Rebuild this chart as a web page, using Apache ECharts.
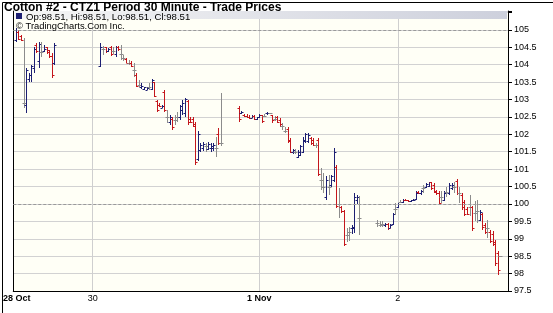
<!DOCTYPE html>
<html><head><meta charset="utf-8">
<script src="https://cdn.jsdelivr.net/npm/echarts@6/dist/echarts.min.js"></script>
<style>html,body{margin:0;padding:0;background:#fff}#c{width:553px;height:313px}</style>
</head><body><div id="c"></div>
<script>
// ---- chart text ----
const chartTitle = 'Cotton #2 - CTZ1 Period 30 Minute - Trade Prices';
const creditText = 'TradingCharts.Com Inc.';

// ---- x axis: 30-minute slots, day labels ----
const slotCount = 194;
const tickLabels = ['28 Oct', '30', '1 Nov', '2'];
const tickSlots = [0, 31, 96, 150];
const boldLabels = ['28 Oct', '1 Nov'];

// ---- y axis ----
const yMin = 97.5, yMax = 105.54, yStep = 0.5, yLabelTop = 105;
const dashedLevels = [100, 105];

// ---- OHLC bars per session: [open, high, low, close] ----
const sessionStart = [1, 34, 88, 142];
const session1 = [
  [104.7,105.05,104.65,104.95],[104.95,105.0,104.7,104.75],[104.82,104.85,104.68,104.72],[102.9,104.76,102.76,102.9],
  [102.85,103.9,102.61,103.85],[103.6,103.76,103.5,103.7],[103.7,103.99,103.5,103.95],[103.9,104.51,103.76,104.45],
  [104.55,104.62,104.33,104.4],[104.1,104.65,103.9,104.6],[104.35,104.65,104.22,104.35],[104.4,104.56,104.36,104.45],
  [104.5,104.52,104.3,104.35],[104.42,104.42,104.19,104.25],[104.25,104.33,103.62,103.7],[104.05,104.62,103.99,104.55]
];
const session2 = [
  [103.95,104.62,103.92,104.5],[104.45,104.54,104.28,104.45],[104.5,104.52,104.33,104.4],[104.4,104.48,104.35,104.45],
  [104.5,104.54,104.25,104.3],[104.4,104.52,104.3,104.4],[104.3,104.54,104.23,104.5],[104.5,104.54,104.38,104.45],
  [104.3,104.56,104.13,104.3],[104.2,104.28,104.09,104.2],[104.15,104.18,104.04,104.05],[104.05,104.13,103.99,104.05],
  [104.05,104.11,103.94,103.95],[103.85,104.04,103.65,103.85],[103.7,103.75,103.37,103.4],[103.42,103.56,103.37,103.42],
  [103.35,103.47,103.29,103.4],[103.3,103.37,103.27,103.35],[103.28,103.37,103.27,103.32],[103.35,103.47,103.27,103.35],
  [103.3,103.58,103.27,103.55],[103.5,103.51,103.08,103.1],[102.95,102.99,102.65,102.7],[102.85,102.89,102.79,102.82],
  [102.76,102.85,102.75,102.82],[103.2,103.27,102.65,102.7],[102.5,102.7,102.32,102.5],[102.35,102.56,102.27,102.5],
  [102.45,102.51,102.13,102.2],[102.4,102.56,102.27,102.4],[102.5,102.65,102.36,102.5],[102.5,102.84,102.41,102.8],
  [102.7,102.99,102.56,102.9],[102.6,103.04,102.51,103.0],[102.95,102.99,102.27,102.35],[102.45,102.51,102.32,102.35],
  [102.45,102.51,102.22,102.25],[102.3,102.36,101.12,101.2],[101.3,102.08,101.22,102.0],[101.55,101.75,101.5,101.7],
  [101.6,101.78,101.52,101.72],[101.65,101.75,101.5,101.65],[101.58,101.78,101.55,101.72],[101.6,101.76,101.5,101.65],
  [101.62,101.74,101.52,101.68],[101.6,101.93,101.36,101.6],[102.0,102.18,101.7,101.75],[101.75,103.18,101.65,101.75]
];
const session3 = [
  [102.75,102.8,102.36,102.45],[102.6,102.68,102.58,102.65],[102.55,102.58,102.51,102.53],[102.53,102.58,102.48,102.5],
  [102.5,102.56,102.44,102.47],[102.48,102.54,102.47,102.52],[102.52,102.55,102.4,102.45],[102.45,102.51,102.41,102.5],
  [102.5,102.58,102.48,102.56],[102.55,102.56,102.32,102.38],[102.52,102.59,102.51,102.52],[102.6,102.65,102.55,102.62],
  [102.6,102.62,102.57,102.6],[102.55,102.56,102.32,102.4],[102.45,102.52,102.37,102.45],[102.5,102.52,102.32,102.35],
  [102.42,102.46,102.22,102.3],[102.25,102.32,102.13,102.25],[102.1,102.22,102.03,102.1],[102.15,102.22,101.74,101.8],
  [101.85,101.9,101.46,101.5],[101.48,101.57,101.44,101.55],[101.5,101.58,101.44,101.5],[101.35,101.55,101.31,101.5],
  [101.4,101.7,101.38,101.65],[101.5,101.93,101.46,101.85],[101.8,102.04,101.75,102.0],[101.8,102.04,101.75,101.98],
  [101.9,101.93,101.7,101.75],[101.85,101.89,101.65,101.68],[101.7,101.75,101.6,101.7],[101.85,101.89,100.79,100.85],
  [100.7,101.03,100.4,100.7],[100.5,100.9,100.31,100.5],[100.2,100.79,100.12,100.7],[100.5,100.84,100.26,100.5],
  [100.55,100.84,100.5,100.8],[100.7,101.6,100.64,101.5],[101.05,101.12,99.88,99.95],[100.0,100.45,99.59,100.0],
  [99.9,99.95,99.75,99.8],[99.8,99.83,98.78,98.85],[99.1,99.31,98.92,99.1],[99.2,99.35,98.95,99.2],
  [99.3,99.4,99.15,99.35],[99.3,100.31,99.16,100.2],[100.1,100.25,100.0,100.2],[99.6,100.23,99.12,99.6]
];
const session4 = [
  [99.45,99.55,99.35,99.45],[99.4,99.52,99.35,99.4],[99.42,99.5,99.35,99.42],[99.4,99.46,99.34,99.42],
  [99.42,99.45,99.26,99.3],[99.32,99.42,99.3,99.4],[99.42,99.74,99.4,99.7],[99.85,100.02,99.69,99.85],
  [99.92,100.04,99.88,100.0],[100.05,100.1,100.02,100.05],[100.05,100.15,100.02,100.12],[100.12,100.14,100.08,100.1],
  [100.1,100.12,100.06,100.08],[100.08,100.12,100.05,100.1],[100.1,100.14,100.07,100.12],[100.14,100.36,100.12,100.32],
  [100.33,100.38,100.28,100.3],[100.32,100.41,100.26,100.38],[100.45,100.55,100.31,100.45],[100.5,100.6,100.45,100.57],
  [100.52,100.64,100.5,100.62],[100.62,100.64,100.41,100.45],[100.55,100.6,100.31,100.35],[100.38,100.4,100.25,100.3],
  [100.32,100.36,99.98,100.02],[100.2,100.36,100.03,100.2],[100.1,100.36,100.07,100.3],[100.35,100.5,100.21,100.35],
  [100.3,100.6,100.26,100.55],[100.45,100.6,100.4,100.55],[100.5,100.64,100.31,100.5],[100.65,100.71,100.26,100.3],
  [100.3,100.5,100.02,100.3],[100.25,100.31,99.83,99.9],[100.05,100.12,99.64,99.7],[99.85,99.9,99.68,99.72],
  [99.9,100.26,99.64,99.9],[99.9,99.93,99.21,99.3],[99.75,100.07,99.5,99.75],[99.8,100.12,99.45,99.8],
  [99.55,99.83,99.5,99.78],[99.7,99.74,99.26,99.35],[99.4,99.45,99.15,99.2],[99.3,99.55,99.02,99.3],
  [99.2,99.26,98.88,98.95],[99.15,99.21,98.78,98.85],[98.9,98.97,98.21,98.3],[98.6,98.64,97.97,98.1],
  [98.51,98.51,98.51,98.51]
];

// ---- colours ----
const UP = '#1d1f73', DOWN = '#c4161c', FLAT = '#8c8c8c';

const sessions = [session1, session2, session3, session4];
const bars = [];
sessions.forEach((s, k) => s.forEach((b, j) => bars.push([sessionStart[k] + j, b[0], b[1], b[2], b[3]])));
const slots = Array.from({length: slotCount}, (_, i) => String(i));
const last = bars[bars.length - 1];
const fmt = v => v.toFixed(2);
const legendText = 'Op:' + fmt(last[1]) + ', Hi:' + fmt(last[2]) + ', Lo:' + fmt(last[3]) + ', Cl:' + fmt(last[4]);

const chart = echarts.init(document.getElementById('c'), null, {renderer: 'canvas'});
const FONT = 'Liberation Sans, Arial, sans-serif';

chart.setOption({
  animation: false,
  backgroundColor: '#ffffff',
  grid: {left: 13, right: 45, top: 11, bottom: 22, show: true, backgroundColor: '#fffff6', borderWidth: 0},
  xAxis: {
    type: 'category', data: slots, boundaryGap: false,
    axisLine: {lineStyle: {color: '#000', width: 1}},
    axisTick: {show: false},
    splitLine: {show: true, interval: (i) => tickSlots.indexOf(i) > 0, lineStyle: {color: '#cfcfcf', width: 1}},
    axisLabel: {
      interval: (i) => tickSlots.indexOf(i) >= 0,
      margin: 3, color: '#000', fontSize: 9, fontFamily: FONT,
      formatter: (v, i) => {
        const k = tickSlots.indexOf(Number(v));
        if (k < 0) return '';
        const t = tickLabels[k];
        if (k === 0) return '{f|' + t + '}';
        return boldLabels.indexOf(t) >= 0 ? '{b|' + t + '}' : '{n|' + t + '}';
      },
      rich: {
        f: {fontWeight: 'bold', fontSize: 9, fontFamily: FONT, padding: [0, 0, 0, 7], color: '#000'},
        b: {fontWeight: 'bold', fontSize: 9, fontFamily: FONT, color: '#000'},
        n: {fontSize: 9, fontFamily: FONT, color: '#000'}
      }
    }
  },
  yAxis: [{
    type: 'value', position: 'right', min: yMin, max: yMax, interval: yStep,
    axisLine: {show: true, lineStyle: {color: '#000', width: 1}},
    axisTick: {show: true, length: 4, lineStyle: {color: '#000'}},
    splitLine: {show: true, lineStyle: {color: '#d2d2d2', width: 1}},
    axisLabel: {
      margin: 6, color: '#000', fontSize: 9, fontFamily: FONT,
      formatter: v => {
        const r = v / yStep;
        if (v > yLabelTop + 1e-9 || Math.abs(r - Math.round(r)) > 1e-6) return '';
        return String(Math.round(v * 100) / 100);
      }
    }
  }, {
    type: 'value', position: 'left', min: yMin, max: yMax, interval: yStep,
    axisLine: {show: true, lineStyle: {color: '#000', width: 1}},
    axisTick: {show: false}, axisLabel: {show: false}, splitLine: {show: false}
  }],
  series: [{
    type: 'custom',
    data: bars,
    encode: {x: 0, y: [1, 2, 3, 4]},
    clip: true,
    renderItem: (params, api) => {
      const i = api.value(0), o = api.value(1), h = api.value(2), l = api.value(3), c = api.value(4);
      const pH = api.coord([i, h]), pL = api.coord([i, l]), pO = api.coord([i, o]), pC = api.coord([i, c]);
      const x = Math.round(pH[0]) + 0.5;
      const color = c > o ? UP : (c < o ? DOWN : FLAT);
      const style = {stroke: color, lineWidth: 1, fill: null};
      const yH = Math.round(pH[1]), yL = Math.max(Math.round(pL[1]), yH + 1);
      const yO = Math.round(pO[1]) + 0.5, yC = Math.round(pC[1]) + 0.5;
      return {type: 'group', children: [
        {type: 'line', shape: {x1: x, y1: yH, x2: x, y2: yL}, style: style},
        {type: 'line', shape: {x1: x - 2, y1: yO, x2: x, y2: yO}, style: style},
        {type: 'line', shape: {x1: x, y1: yC, x2: x + 2, y2: yC}, style: style}
      ]};
    },
    markLine: {
      silent: true, symbol: 'none', label: {show: false},
      lineStyle: {type: [3, 2], color: '#9a9a9a', width: 1},
      data: dashedLevels.map(v => ({yAxis: v}))
    }
  }],
  graphic: [
    {type: 'rect', left: 14, top: 11, z: 50, shape: {width: 493, height: 8},
      style: {fill: new echarts.graphic.LinearGradient(0, 0, 1, 0, [{offset: 0, color: '#f6f6f6'}, {offset: 1, color: '#cdd0dc'}])}},
    {type: 'text', left: 4, top: 2, z: 60, style: {text: chartTitle, font: 'bold 12px ' + FONT, fill: '#000'}},
    {type: 'rect', left: 16, top: 13, z: 60, shape: {width: 6, height: 6}, style: {fill: '#1d1f73'}},
    {type: 'text', left: 26, top: 12, z: 60, style: {text: legendText, font: '9.6px ' + FONT, fill: '#000'}},
    {type: 'text', left: 16, top: 22, z: 60, style: {text: '\u00a9 ' + creditText, font: '9.4px ' + FONT, fill: '#000'}},
    {type: 'rect', left: 0, top: 0, z: 70, shape: {width: 552, height: 312}, style: {fill: null, stroke: '#000', lineWidth: 1}}
  ]
});
</script>
</body></html>
